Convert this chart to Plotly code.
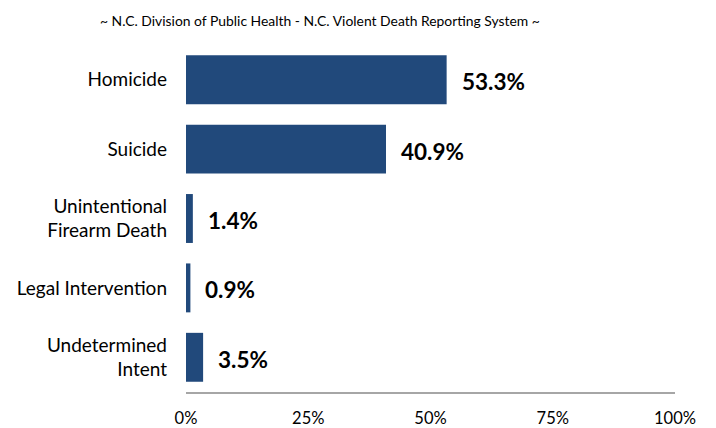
import plotly.graph_objects as go

categories = ["Homicide", "Suicide", "Unintentional<br>Firearm Death",
              "Legal Intervention", "Undetermined<br>Intent"]
values = [53.3, 40.9, 1.4, 0.9, 3.5]
x_ticks = [0, 25, 50, 75, 100]
x_tick_labels = ["0%", "25%", "50%", "75%", "100%"]
subtitle = "~ N.C. Division of Public Health - N.C. Violent Death Reporting System ~"

BAR_COLOR = "#21497B"
FONT = "Lato"

fig = go.Figure()
fig.add_trace(go.Bar(
    x=values, y=categories, orientation="h",
    marker=dict(color=BAR_COLOR, line=dict(width=0)),
    hoverinfo="skip",
))

for c, v in zip(categories, values):
    fig.add_annotation(
        x=v, y=c, xref="x", yref="y",
        text=f"<b>{v:.1f}%</b>", showarrow=False,
        xanchor="left", yanchor="middle", xshift=13, yshift=-2,
        font=dict(family=FONT, size=22.5, color="#000000"),
    )

fig.add_annotation(
    text=subtitle, xref="paper", yref="paper", x=(320 - 186) / 489, y=1,
    xanchor="center", yanchor="middle", yshift=25, showarrow=False,
    font=dict(family=FONT, size=13.9, color="#000000"),
)

fig.update_layout(
    width=716, height=428,
    margin=dict(l=186, r=41, t=45, b=36, pad=0, autoexpand=False),
    paper_bgcolor="white", plot_bgcolor="white",
    bargap=0.295,
    showlegend=False,
    font=dict(family=FONT, color="#000000"),
    xaxis=dict(
        range=[0, 100], tickvals=x_ticks, ticktext=x_tick_labels,
        showgrid=False, zeroline=False, automargin=False,
        showline=True, linecolor="#A6A6A6", linewidth=2,
        ticks="", ticklabelstandoff=10,
        tickfont=dict(family=FONT, size=16.5, color="#000000"),
        fixedrange=True,
    ),
    yaxis=dict(
        autorange="reversed", showgrid=False, zeroline=False, automargin=False,
        showline=False, ticks="", ticklabelstandoff=18,
        tickfont=dict(family=FONT, size=19, color="#000000"),
        fixedrange=True,
    ),
)

fig.write_html("out.html")
